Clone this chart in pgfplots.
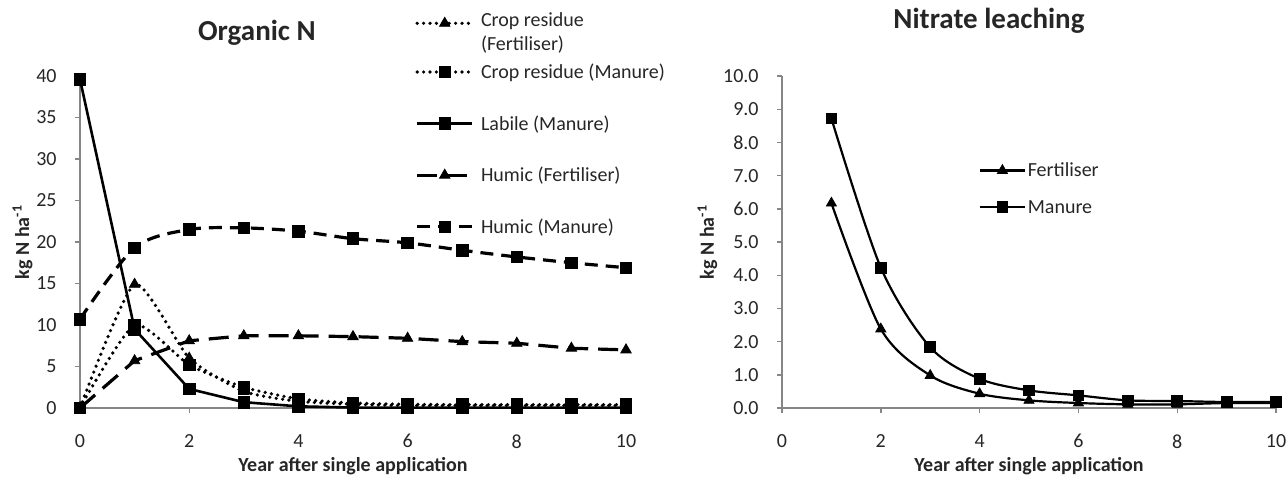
\documentclass[border=0pt]{standalone}
\usepackage{fontspec}
\setmainfont{Carlito}
\usepackage{pgfplots}
\pgfplotsset{compat=1.18}

\definecolor{axisgray}{HTML}{868686}
\definecolor{txt}{HTML}{262626}

\pgfplotsset{
  excelaxis/.style={
    scale only axis,
    height=166pt,
    axis lines=left,
    axis line style={axisgray, line width=0.7pt, -},
    tick style={axisgray, line width=0.7pt},
    tick align=outside,
    major tick length=2.5pt,
    xmin=0, xmax=10, xtick={0,2,...,10},
    ymin=0,
    clip=false,
    tick label style={font=\fontsize{10}{12}\selectfont, text=txt, inner sep=0pt},
    /pgf/number format/assume math mode=true,
    yticklabel style={anchor=east, xshift=-9pt},
    xticklabel style={anchor=north, yshift=-10.5pt},
    label style={font=\bfseries\fontsize{10}{12}\selectfont, text=txt},
    xlabel={Year after single application},
    ylabel={kg N ha\textsuperscript{-1}},
    xlabel style={at={(axis description cs:0.5,-0.192)}, anchor=base},
    title style={anchor=base, font=\bfseries\fontsize{14.5}{17}\selectfont, text=txt},
    legend cell align=left,
  },
  dotline/.style={black, line width=1.8pt, dash pattern=on 0pt off 3.2pt, line cap=round,
    smooth, tension=0.35},
}

\begin{document}
\begin{tikzpicture}
\useasboundingbox (0,0) rectangle (644pt,238.5pt);

% Organic N
\begin{axis}[excelaxis,
    at={(40pt,34.5pt)}, anchor=south west,
    width=273pt,
    ymax=40, ytick={0,5,...,40},
    title={Organic N},
    title style={at={(axis description cs:0.324,1.072)}},
    ylabel style={at={(axis description cs:-0.0934,0.5)}, anchor=base},
    legend style={at={(axis description cs:0.6136,1.2289)}, anchor=north west,
      draw=none, fill=none, inner sep=0pt, row sep=0pt,
      font=\fontsize{10}{12}\selectfont,
      nodes={inner xsep=3.5pt, inner ysep=0pt, text height=16.1pt, text depth=9.7pt, text=txt}},
    legend image code/.code={\draw[mark repeat=2, mark phase=2] plot coordinates {(0pt,0pt) (13.75pt,0pt) (27.5pt,0pt)};},
  ]
  \addplot[dotline,
    mark=triangle*, mark size=3pt, mark options={solid, fill=black, line width=0.4pt}]
    coordinates {(0,0) (1,14.9) (2,6.0) (3,2.0) (4,0.8) (5,0.45) (6,0.3) (7,0.3) (8,0.3) (9,0.3) (10,0.3)};
  \addlegendentry[text height=13.2pt, text depth=9.7pt]{\begin{tabular}[t]{@{}l@{}}Crop residue\\(Fertiliser)\end{tabular}}
  \addplot[dotline,
    mark=square*, mark size=2.9pt, mark options={solid, fill=black, line width=0.4pt}]
    coordinates {(0,0) (1,10.0) (2,5.2) (3,2.5) (4,1.1) (5,0.6) (6,0.45) (7,0.4) (8,0.4) (9,0.4) (10,0.4)};
  \addlegendentry{Crop residue (Manure)}
  \addplot[black, line width=1.3pt,
    mark=square*, mark size=2.9pt, mark options={solid, fill=black, line width=0.4pt}]
    coordinates {(0,39.6) (1,9.5) (2,2.3) (3,0.7) (4,0.2) (5,0.05) (6,0.05) (7,0.05) (8,0.05) (9,0.05) (10,0.05)};
  \addlegendentry{Labile (Manure)}
  \addplot[black, line width=1.6pt, dash pattern=on 10pt off 5pt,
    mark=triangle*, mark size=3pt, mark options={solid, fill=black, line width=0.4pt}]
    coordinates {(0,0) (1,5.7) (2,8.1) (3,8.7) (4,8.7) (5,8.6) (6,8.4) (7,8.0) (8,7.8) (9,7.2) (10,7.0)};
  \addlegendentry{Humic (Fertiliser)}
  \addplot[black, line width=1.6pt, dash pattern=on 6.5pt off 4pt, smooth,
    mark=square*, mark size=2.9pt, mark options={solid, fill=black, line width=0.4pt}]
    coordinates {(0,10.7) (1,19.3) (2,21.5) (3,21.7) (4,21.3) (5,20.4) (6,19.9) (7,19.0) (8,18.2) (9,17.5) (10,16.9)};
  \addlegendentry{Humic (Manure)}
\end{axis}

% Nitrate leaching
\begin{axis}[excelaxis,
    at={(391pt,34.5pt)}, anchor=south west,
    width=247pt,
    ymax=10, ytick={0,1,...,10},
    yticklabel style={/pgf/number format/.cd, fixed, fixed zerofill, precision=1},
    title={Nitrate leaching},
    title style={at={(axis description cs:0.419,1.108)}},
    ylabel style={at={(axis description cs:-0.1377,0.5)}, anchor=base},
    legend style={at={(axis description cs:0.398,0.772)}, anchor=north west,
      draw=none, fill=none, inner sep=0pt, row sep=0pt,
      font=\fontsize{10}{12}\selectfont,
      nodes={inner xsep=1pt, inner ysep=0pt, text height=12.4pt, text depth=5.97pt, text=txt}},
    legend image code/.code={\draw[mark repeat=2, mark phase=2] plot coordinates {(0pt,0pt) (11.15pt,0pt) (22.3pt,0pt)};},
  ]
  \addplot[black, line width=1.1pt, smooth,
    mark=triangle*, mark size=2.9pt, mark options={solid, fill=black, line width=0.4pt}]
    coordinates {(1,6.17) (2,2.38) (3,0.98) (4,0.43) (5,0.23) (6,0.15) (7,0.11) (8,0.11) (9,0.15) (10,0.15)};
  \addlegendentry{Fertiliser}
  \addplot[black, line width=1.1pt, smooth,
    mark=square*, mark size=2.7pt, mark options={solid, fill=black, line width=0.4pt}]
    coordinates {(1,8.72) (2,4.23) (3,1.83) (4,0.88) (5,0.53) (6,0.38) (7,0.23) (8,0.21) (9,0.18) (10,0.18)};
  \addlegendentry{Manure}
\end{axis}
\end{tikzpicture}
\end{document}
